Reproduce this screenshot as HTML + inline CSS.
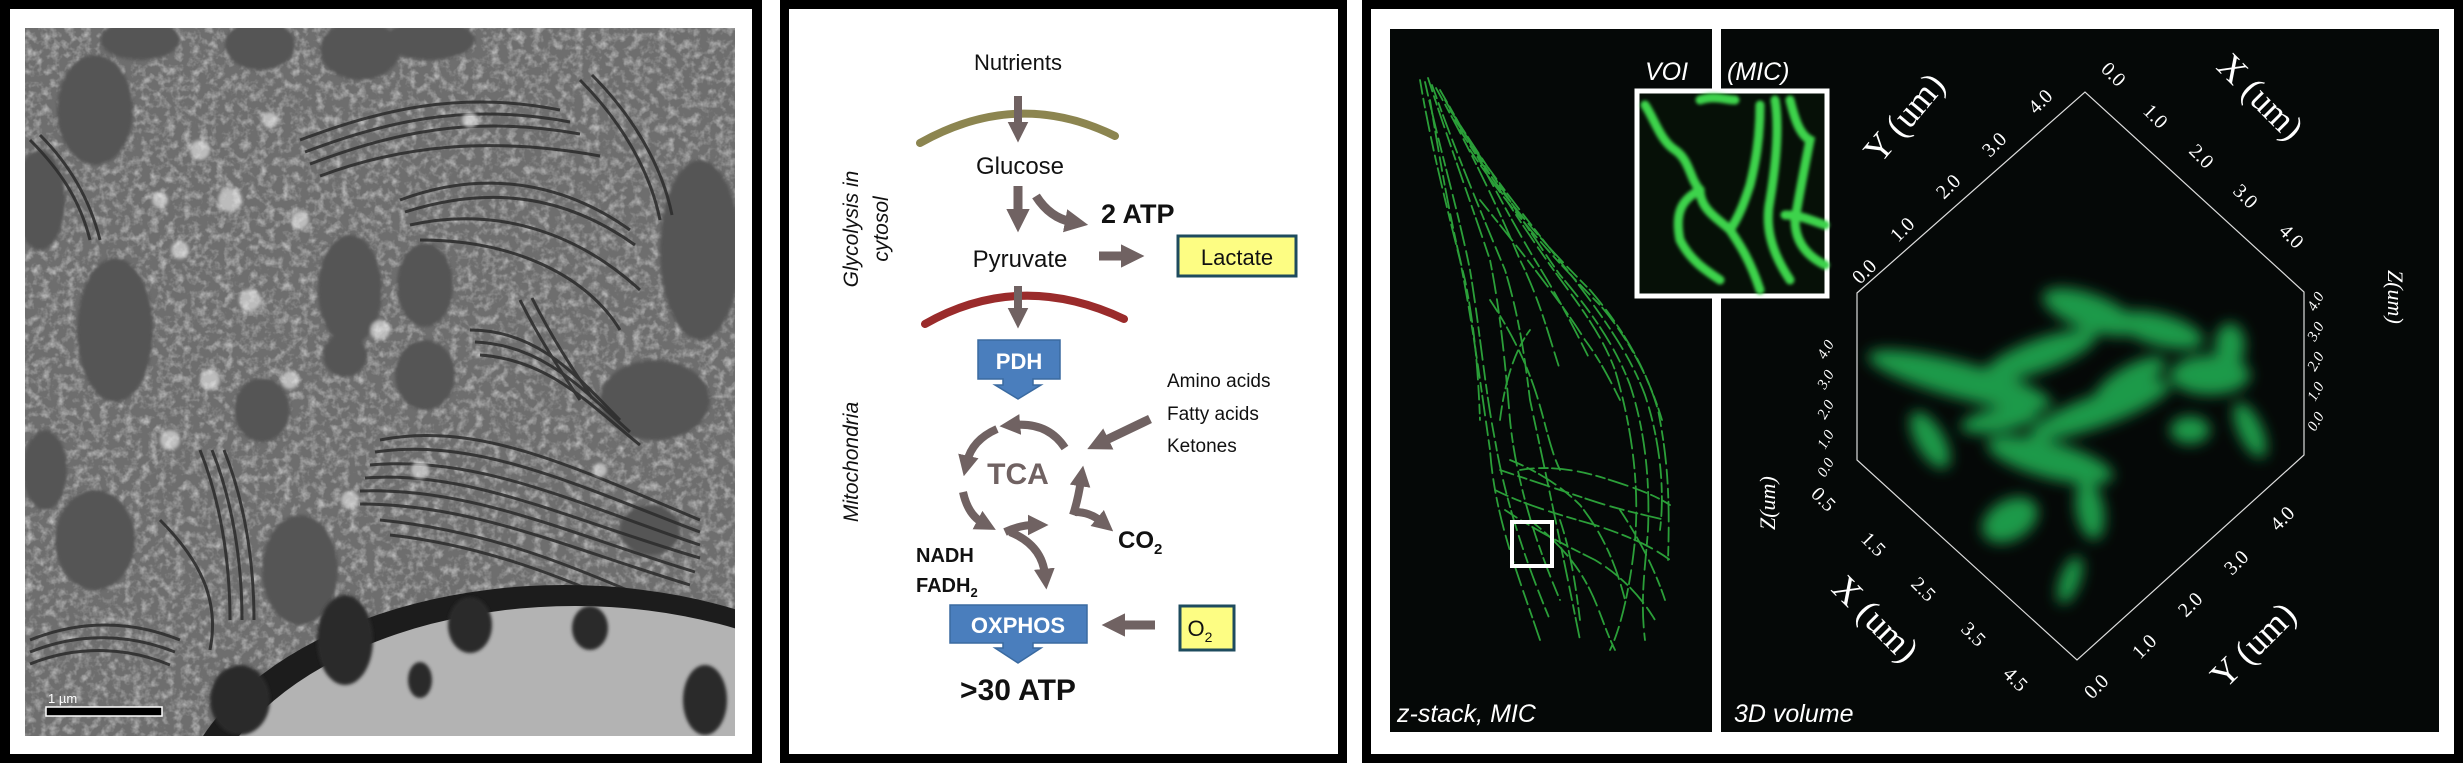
<!DOCTYPE html>
<html><head><meta charset="utf-8">
<style>
html,body{margin:0;padding:0;background:#fff;width:2463px;height:763px;overflow:hidden;}
svg{display:block;overflow:hidden;}
.s{font-family:"Liberation Sans",sans-serif;}
.r{font-family:"Liberation Serif",serif;fill:#fff;}
</style></head>
<body>
<svg width="2463" height="763" viewBox="0 0 2463 763" xmlns="http://www.w3.org/2000/svg">
<defs>
  <filter id="tex" x="0" y="0" width="100%" height="100%">
    <feTurbulence type="fractalNoise" baseFrequency="0.12" numOctaves="3" seed="4" result="n"/>
    <feColorMatrix in="n" type="matrix" values="0 0 0 0 1  0 0 0 0 1  0 0 0 0 1  0 0 0 -2.2 1.25"/>
  </filter>
  <filter id="bl" x="-20%" y="-20%" width="140%" height="140%"><feGaussianBlur stdDeviation="1.5"/></filter>
  <filter id="bl2" x="-50%" y="-50%" width="200%" height="200%"><feGaussianBlur stdDeviation="7"/></filter>
  <clipPath id="c1"><rect x="25" y="28" width="710" height="708"/></clipPath>
  <clipPath id="c3"><rect x="1721" y="29" width="718" height="703"/></clipPath>
  <clipPath id="c2"><rect x="1390" y="29" width="322" height="703"/></clipPath>
  <marker id="ah" viewBox="0 0 10 10" refX="3" refY="5" markerWidth="2.6" markerHeight="2.6" orient="auto"><path d="M0,0 L10,5 L0,10 z" fill="#706262"/></marker>
</defs>

<rect x="0" y="0" width="762" height="763" fill="#000"/>
<rect x="10" y="9" width="742" height="745" fill="#fff"/>
<rect x="780" y="0" width="567" height="763" fill="#000"/>
<rect x="789" y="9" width="549" height="745" fill="#fff"/>
<rect x="1362" y="0" width="1101" height="763" fill="#000"/>
<rect x="1371" y="9" width="1083" height="745" fill="#fff"/>

<g clip-path="url(#c1)">
  <rect x="25" y="28" width="710" height="708" fill="#6e6e6e"/>
  <rect x="25" y="28" width="710" height="708" filter="url(#tex)" opacity="0.5"/>
  <g fill="#545454" filter="url(#bl)">
    <ellipse cx="95" cy="110" rx="38" ry="55"/>
    <ellipse cx="140" cy="40" rx="40" ry="20"/>
    <ellipse cx="260" cy="45" rx="35" ry="25"/>
    <ellipse cx="360" cy="50" rx="40" ry="30"/>
    <ellipse cx="430" cy="40" rx="45" ry="20"/>
    <ellipse cx="115" cy="330" rx="38" ry="72"/>
    <ellipse cx="40" cy="200" rx="25" ry="50"/>
    <ellipse cx="350" cy="290" rx="32" ry="55"/>
    <ellipse cx="425" cy="285" rx="28" ry="42"/>
    <ellipse cx="345" cy="355" rx="22" ry="22"/>
    <ellipse cx="425" cy="375" rx="30" ry="35"/>
    <ellipse cx="262" cy="410" rx="28" ry="32"/>
    <ellipse cx="655" cy="400" rx="55" ry="40"/>
    <ellipse cx="95" cy="540" rx="40" ry="50"/>
    <ellipse cx="300" cy="570" rx="38" ry="55"/>
    <ellipse cx="700" cy="250" rx="40" ry="90"/>
    <ellipse cx="45" cy="470" rx="22" ry="40"/>
    <ellipse cx="650" cy="530" rx="30" ry="25"/>
  </g>
  <g fill="none" stroke="#2e2e2e" stroke-width="3" opacity="0.9">
    <path d="M300,140 C380,110 460,90 560,110"/><path d="M305,152 C385,122 465,102 570,122"/>
    <path d="M310,164 C390,134 470,114 580,134"/><path d="M320,176 C400,146 490,136 600,156"/>
    <path d="M400,200 C480,170 560,180 630,230"/><path d="M405,212 C490,185 565,195 635,245"/>
    <path d="M410,225 C500,205 580,235 640,290"/><path d="M420,240 C520,240 590,280 620,330"/>
    <path d="M470,330 C540,330 580,380 620,420"/><path d="M475,342 C545,345 585,392 630,432"/>
    <path d="M480,355 C550,360 590,405 640,445"/>
    <path d="M380,440 C480,420 580,470 700,520"/><path d="M375,452 C480,437 580,487 700,532"/>
    <path d="M370,465 C480,455 580,505 700,545"/><path d="M365,478 C470,470 570,520 700,558"/>
    <path d="M360,491 C470,487 565,532 695,572"/><path d="M360,504 C470,504 560,545 690,585"/>
    <path d="M380,520 C480,530 560,560 650,600"/><path d="M390,535 C480,545 560,575 640,612"/>
    <path d="M200,450 C220,500 230,560 230,620"/><path d="M212,450 C232,500 242,560 242,620"/>
    <path d="M224,450 C244,500 254,560 254,620"/><path d="M160,520 C200,560 220,600 210,650"/>
    <path d="M30,640 C80,620 130,620 180,640"/><path d="M30,652 C80,632 130,634 175,652"/>
    <path d="M30,664 C80,644 130,648 170,665"/>
    <path d="M30,140 C60,170 80,200 90,240"/><path d="M40,135 C70,165 90,200 100,240"/>
    <path d="M520,300 C540,340 560,370 580,400"/><path d="M532,298 C552,338 572,368 592,398"/>
    <path d="M580,80 C620,120 650,170 660,220"/><path d="M592,75 C632,115 662,165 672,215"/>
  </g>
  <g fill="#f0f0f0" opacity="0.6" filter="url(#bl)">
    <circle cx="200" cy="150" r="10"/><circle cx="230" cy="200" r="12"/><circle cx="180" cy="250" r="9"/>
    <circle cx="250" cy="300" r="11"/><circle cx="210" cy="380" r="10"/><circle cx="300" cy="220" r="9"/>
    <circle cx="170" cy="440" r="10"/><circle cx="160" cy="200" r="8"/><circle cx="270" cy="120" r="8"/>
    <circle cx="290" cy="380" r="9"/><circle cx="380" cy="330" r="10"/><circle cx="420" cy="470" r="9"/>
    <circle cx="350" cy="500" r="9"/><circle cx="470" cy="120" r="8"/><circle cx="600" cy="470" r="7"/>
  </g>
  <ellipse cx="565" cy="830" rx="392" ry="245" fill="#1c1c1c"/>
  <ellipse cx="575" cy="840" rx="375" ry="234" fill="#b3b3b3"/>
  <g fill="#2a2a2a" filter="url(#bl)">
    <ellipse cx="345" cy="640" rx="28" ry="45"/><ellipse cx="470" cy="625" rx="22" ry="28"/>
    <ellipse cx="590" cy="628" rx="18" ry="22"/><ellipse cx="240" cy="700" rx="30" ry="35"/>
    <ellipse cx="705" cy="700" rx="22" ry="35"/><ellipse cx="420" cy="680" rx="12" ry="18"/>
  </g>
  <rect x="46" y="707" width="116" height="9" fill="#000" stroke="#fff" stroke-width="1.5"/>
  <text x="48" y="703" class="s" font-size="13" fill="#fff">1 µm</text>
</g>

<g class="s">
  <text x="1018" y="70" font-size="22" text-anchor="middle" fill="#111">Nutrients</text>
  <path d="M920,143 Q1018,88 1115,136" fill="none" stroke="#8c8550" stroke-width="8" stroke-linecap="round"/>
  <path d="M1018,96 L1018,128" stroke="#706262" stroke-width="8" marker-end="url(#ah)"/>
  <text x="1020" y="174" font-size="24" text-anchor="middle" fill="#111">Glucose</text>
  <path d="M1018,186 L1018,216" stroke="#706262" stroke-width="9" marker-end="url(#ah)"/>
  <path d="M1036,196 Q1050,218 1072,222" fill="none" stroke="#706262" stroke-width="9" marker-end="url(#ah)"/>
  <text x="1101" y="223" font-size="27" font-weight="bold" fill="#111">2 ATP</text>
  <text x="1020" y="267" font-size="24" text-anchor="middle" fill="#111">Pyruvate</text>
  <path d="M1099,256 L1128,256" stroke="#706262" stroke-width="9" marker-end="url(#ah)"/>
  <rect x="1178" y="236" width="118" height="40" fill="#fdfd83" stroke="#1e4b5e" stroke-width="3"/>
  <text x="1237" y="265" font-size="22" text-anchor="middle" fill="#111">Lactate</text>
  <path d="M925,324 Q1020,270 1124,319" fill="none" stroke="#9a2b2b" stroke-width="8" stroke-linecap="round"/>
  <path d="M1018,286 L1018,314" stroke="#706262" stroke-width="8" marker-end="url(#ah)"/>
  <path d="M978,340 H1060 V379 H1033 V385 H1041 L1018,399 L995,385 H1003 V379 H978 Z" fill="#4a7ebd" stroke="#3a6aa0" stroke-width="1.5"/>
  <text x="1019" y="369" font-size="22" font-weight="bold" text-anchor="middle" fill="#fff">PDH</text>
  <text x="1167" y="387" font-size="19" fill="#111">Amino acids</text>
  <text x="1167" y="420" font-size="19" fill="#111">Fatty acids</text>
  <text x="1167" y="452" font-size="19" fill="#111">Ketones</text>
  <path d="M1150,419 L1102,442" stroke="#706262" stroke-width="9" marker-end="url(#ah)"/>
  <g fill="none" stroke="#706262" stroke-width="8">
    <path d="M1065,448 Q1048,422 1014,425" marker-end="url(#ah)"/>
    <path d="M997,429 Q972,440 967,462" marker-end="url(#ah)"/>
    <path d="M963,492 Q968,515 983,523" marker-end="url(#ah)"/>
    <path d="M1005,532 Q1020,525 1034,525" marker-end="url(#ah)"/>
    <path d="M1073,515 Q1078,500 1081,480" marker-end="url(#ah)"/>
    <path d="M1075,512 Q1090,512 1102,522" marker-end="url(#ah)"/>
    <path d="M1010,532 Q1042,545 1045,575" marker-end="url(#ah)"/>
  </g>
  <text x="1018" y="484" font-size="30" font-weight="bold" text-anchor="middle" fill="#706262">TCA</text>
  <text x="1118" y="548" font-size="24" font-weight="bold" fill="#111">CO<tspan font-size="15" dy="6">2</tspan></text>
  <text x="916" y="562" font-size="20" font-weight="bold" fill="#111">NADH</text>
  <text x="916" y="592" font-size="20" font-weight="bold" fill="#111">FADH<tspan font-size="13" dy="5">2</tspan></text>
  <path d="M950,605 H1087 V643 H1033 V648 H1041 L1018,663 L995,648 H1003 V643 H950 Z" fill="#4a7ebd" stroke="#3a6aa0" stroke-width="1.5"/>
  <text x="1018" y="633" font-size="22" font-weight="bold" text-anchor="middle" fill="#fff">OXPHOS</text>
  <path d="M1155,625 L1118,625" stroke="#706262" stroke-width="9" marker-end="url(#ah)"/>
  <rect x="1180" y="606" width="54" height="44" fill="#fdfd83" stroke="#1e4b5e" stroke-width="3"/>
  <text x="1200" y="636" font-size="22" text-anchor="middle" fill="#111">O<tspan font-size="14" dy="6">2</tspan></text>
  <text x="1018" y="700" font-size="30" font-weight="bold" text-anchor="middle" fill="#111">&gt;30 ATP</text>
  <text transform="translate(858,229) rotate(-90)" font-size="21" font-style="italic" text-anchor="middle" fill="#111">Glycolysis in</text>
  <text transform="translate(888,229) rotate(-90)" font-size="21" font-style="italic" text-anchor="middle" fill="#111">cytosol</text>
  <text transform="translate(858,462) rotate(-90)" font-size="21" font-style="italic" text-anchor="middle" fill="#111">Mitochondria</text>
</g>

<rect x="1390" y="29" width="1049" height="703" fill="#050807"/>
<rect x="1712" y="29" width="9" height="703" fill="#fff"/>
<g clip-path="url(#c2)" fill="none" stroke="#2ea83c" stroke-width="1.8" stroke-linecap="round" stroke-dasharray="14 5 9 4 20 6" opacity="0.95">
  <path d="M1420,80 C1430,140 1445,200 1460,260 C1472,320 1480,380 1490,450 C1495,520 1520,580 1540,640"/>
  <path d="M1425,82 C1440,150 1458,210 1470,270 C1480,330 1485,390 1495,440 C1505,500 1525,560 1550,620"/>
  <path d="M1428,78 C1448,140 1470,200 1490,260 C1500,310 1505,360 1510,420 C1515,470 1530,530 1560,600"/>
  <path d="M1432,85 C1455,150 1480,210 1505,270 C1520,320 1525,360 1530,400 C1545,470 1560,540 1580,640"/>
  <path d="M1436,88 C1465,140 1495,200 1520,260 C1540,300 1550,340 1560,370"/>
  <path d="M1440,90 C1475,150 1505,210 1535,260 C1560,300 1575,330 1590,360"/>
  <path d="M1445,100 C1480,160 1515,215 1550,265 C1575,300 1600,330 1615,370 C1630,420 1640,480 1635,540 C1630,590 1620,630 1610,650"/>
  <path d="M1450,110 C1490,170 1525,225 1560,275 C1590,310 1615,345 1630,385 C1645,430 1650,480 1648,530 C1645,570 1640,600 1645,640"/>
  <path d="M1455,120 C1495,180 1535,230 1575,280 C1605,320 1630,355 1645,395 C1660,440 1665,490 1660,530"/>
  <path d="M1460,130 C1500,195 1545,245 1590,290 C1620,325 1645,365 1658,410 C1668,460 1670,500 1668,560"/>
  <path d="M1470,150 C1510,210 1555,260 1600,305 C1630,340 1650,380 1662,420"/>
  <path d="M1430,100 C1440,160 1450,220 1465,280 C1475,330 1478,370 1480,420"/>
  <path d="M1480,200 C1520,250 1560,300 1585,340 C1600,360 1610,380 1620,400"/>
  <path d="M1490,300 C1510,330 1525,360 1535,390 C1545,420 1550,450 1560,470"/>
  <path d="M1500,470 C1530,480 1560,490 1590,500 C1620,510 1645,515 1665,520"/>
  <path d="M1495,490 C1525,505 1560,515 1595,525 C1625,535 1650,545 1670,560"/>
  <path d="M1505,510 C1535,530 1565,545 1595,560 C1620,575 1640,595 1655,620"/>
  <path d="M1510,460 C1535,470 1560,485 1580,505 C1600,530 1615,560 1625,600"/>
  <path d="M1530,520 C1555,540 1575,560 1590,590 C1600,610 1605,630 1615,650"/>
  <path d="M1520,470 C1550,465 1580,470 1610,480 C1635,488 1655,495 1670,505"/>
  <path d="M1500,420 C1505,380 1515,350 1530,330"/>
  <path d="M1620,510 C1640,540 1655,570 1665,600"/>
  <path d="M1560,520 C1570,550 1575,580 1580,620"/>
</g>
<rect x="1512" y="522" width="40" height="44" fill="none" stroke="#fff" stroke-width="4"/>
<rect x="1637" y="91" width="190" height="205" fill="#061007" stroke="#fff" stroke-width="5"/>
<g fill="none" stroke="#3dd34c" stroke-width="9" stroke-linecap="round" filter="url(#bl)">
  <path d="M1645,105 C1655,120 1660,140 1675,150 C1690,160 1690,180 1700,190 C1700,210 1720,220 1730,230 C1740,245 1750,260 1760,290"/>
  <path d="M1700,190 C1680,200 1675,215 1680,240 C1690,260 1705,270 1720,280"/>
  <path d="M1730,230 C1740,215 1745,200 1750,185 C1755,165 1760,140 1760,105"/>
  <path d="M1775,100 C1780,130 1775,170 1770,200 C1765,225 1770,250 1790,280"/>
  <path d="M1790,100 C1795,120 1800,135 1810,140 C1805,165 1800,190 1795,220 C1795,240 1805,255 1825,265"/>
  <path d="M1785,215 C1800,215 1810,220 1825,225"/>
  <path d="M1700,100 C1715,95 1725,100 1735,100"/>
</g>
<text x="1645" y="80" font-family="Liberation Sans,sans-serif" font-style="italic" font-size="25" fill="#fff">VOI</text>
<text x="1727" y="80" font-family="Liberation Sans,sans-serif" font-style="italic" font-size="25" fill="#fff">(MIC)</text>
<text x="1397" y="722" font-family="Liberation Sans,sans-serif" font-style="italic" font-size="25" fill="#fff">z-stack, MIC</text>
<text x="1734" y="722" font-family="Liberation Sans,sans-serif" font-style="italic" font-size="25" fill="#fff">3D volume</text>

<g clip-path="url(#c3)">
<g fill="#1f9a4a" filter="url(#bl2)">
  <ellipse cx="2090" cy="312" rx="50" ry="18" transform="rotate(20 2090 312)"/>
  <ellipse cx="2160" cy="330" rx="45" ry="16" transform="rotate(15 2160 330)"/>
  <ellipse cx="1960" cy="380" rx="95" ry="18" transform="rotate(15 1960 380)"/>
  <ellipse cx="2040" cy="355" rx="60" ry="16" transform="rotate(-20 2040 355)"/>
  <ellipse cx="2210" cy="375" rx="40" ry="20"/>
  <ellipse cx="2100" cy="410" rx="75" ry="16" transform="rotate(-20 2100 410)"/>
  <ellipse cx="2050" cy="460" rx="65" ry="18" transform="rotate(15 2050 460)"/>
  <ellipse cx="1930" cy="440" rx="14" ry="32" transform="rotate(-30 1930 440)"/>
  <ellipse cx="2010" cy="520" rx="30" ry="20" transform="rotate(-30 2010 520)"/>
  <ellipse cx="2090" cy="510" rx="14" ry="30" transform="rotate(-10 2090 510)"/>
  <ellipse cx="2250" cy="430" rx="12" ry="30" transform="rotate(-25 2250 430)"/>
  <ellipse cx="2190" cy="430" rx="20" ry="14"/>
  <ellipse cx="2070" cy="580" rx="10" ry="25" transform="rotate(20 2070 580)"/>
  <ellipse cx="2230" cy="345" rx="15" ry="22"/>
  <ellipse cx="2130" cy="380" rx="40" ry="14" transform="rotate(-30 2130 380)"/>
  <ellipse cx="2000" cy="420" rx="40" ry="12" transform="rotate(-10 2000 420)"/>
</g>
</g>
<path d="M1857,293 L2085,92 L2304,292 L2304,455 L2077,660 L1857,460 Z" stroke="#ddd" stroke-width="1.2" fill="none"/>
<g class="r" font-size="20">
  <text transform="translate(2100,70) rotate(45)">0.0</text>
  <text transform="translate(2142,112) rotate(45)">1.0</text>
  <text transform="translate(2188,152) rotate(45)">2.0</text>
  <text transform="translate(2232,192) rotate(45)">3.0</text>
  <text transform="translate(2278,232) rotate(45)">4.0</text>
  <text transform="translate(2215,68) rotate(45)" font-size="36">X (um)</text>
  <text transform="translate(2036,115) rotate(-45)">4.0</text>
  <text transform="translate(1990,158) rotate(-45)">3.0</text>
  <text transform="translate(1944,200) rotate(-45)">2.0</text>
  <text transform="translate(1898,243) rotate(-45)">1.0</text>
  <text transform="translate(1860,285) rotate(-45)">0.0</text>
  <text transform="translate(1880,165) rotate(-50)" font-size="36">Y (um)</text>
  <text transform="translate(1810,495) rotate(45)">0.5</text>
  <text transform="translate(1860,540) rotate(45)">1.5</text>
  <text transform="translate(1910,585) rotate(45)">2.5</text>
  <text transform="translate(1960,630) rotate(45)">3.5</text>
  <text transform="translate(2002,675) rotate(45)">4.5</text>
  <text transform="translate(1830,590) rotate(45)" font-size="36">X (um)</text>
  <text transform="translate(2092,700) rotate(-45)">0.0</text>
  <text transform="translate(2140,660) rotate(-45)">1.0</text>
  <text transform="translate(2186,618) rotate(-45)">2.0</text>
  <text transform="translate(2232,576) rotate(-45)">3.0</text>
  <text transform="translate(2278,532) rotate(-45)">4.0</text>
  <text transform="translate(2225,690) rotate(-45)" font-size="36">Y (um)</text>
</g>
<g class="r" font-size="15" font-style="italic">
  <text transform="translate(1825,478) rotate(-60)">0.0</text>
  <text transform="translate(1825,450) rotate(-60)">1.0</text>
  <text transform="translate(1825,420) rotate(-60)">2.0</text>
  <text transform="translate(1825,390) rotate(-60)">3.0</text>
  <text transform="translate(1825,360) rotate(-60)">4.0</text>
  <text transform="translate(2315,432) rotate(-60)">0.0</text>
  <text transform="translate(2315,402) rotate(-60)">1.0</text>
  <text transform="translate(2315,372) rotate(-60)">2.0</text>
  <text transform="translate(2315,342) rotate(-60)">3.0</text>
  <text transform="translate(2315,312) rotate(-60)">4.0</text>
  <text transform="translate(1775,530) rotate(-90)" font-size="22">Z(um)</text>
  <text transform="translate(2388,270) rotate(90)" font-size="22">Z(um)</text>
</g>
</svg>
</body></html>
